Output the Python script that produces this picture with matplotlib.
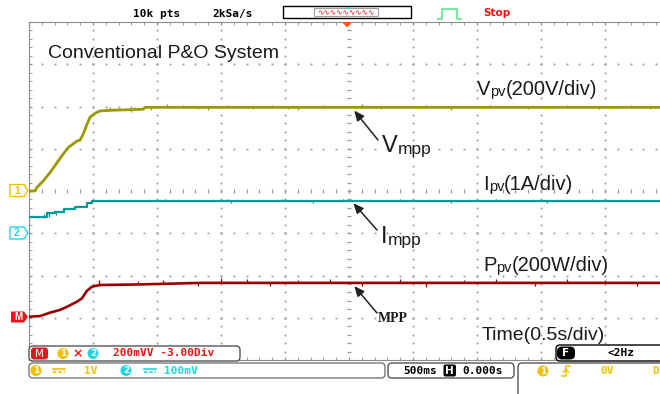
import numpy as np
import matplotlib.pyplot as plt
from matplotlib.patches import Polygon, FancyBboxPatch, Circle, Rectangle

plt.rcParams["font.family"] = ["Liberation Sans", "DejaVu Sans"]

# ─── Captured waveforms (time in s) ───────────────────────────────────────────
t_v  = [0, 0.047, 0.06, 0.11, 0.164, 0.219, 0.266, 0.305, 0.375, 0.398, 0.422,
        0.453, 0.477, 0.516, 0.555, 0.633, 0.89, 0.91, 5.0]
v_pv = [0, 0, 16, 47, 87, 134, 174, 205, 237, 240, 268,
        316, 350, 368, 379, 382, 387, 396, 396]

t_i  = [0, 0.14, 0.20, 0.27, 0.36, 0.45, 0.49, 5.0]
i_pv = [0.39, 0.47, 0.50, 0.57, 0.63, 0.71, 0.76, 0.76]

t_p  = [0, 0.086, 0.164, 0.242, 0.297, 0.375, 0.414, 0.453, 0.492, 0.555, 0.89, 1.34, 5.0]
p_pv = [5, 8, 24, 37, 52, 76, 92, 128, 147, 155, 158, 165, 165]

# glitches riding on the steady-state traces (time, excursion)
v_glitch_t = [0.63, 0.80, 0.83, 0.95, 1.08, 1.20, 1.32, 1.40, 1.55, 1.66, 1.75, 1.90,
              2.02, 2.10, 2.30, 2.42, 2.60, 2.75, 2.88, 3.10, 3.30, 3.45, 3.60, 3.90,
              4.05, 4.20, 4.45, 4.58, 4.70, 4.85]
v_glitch   = [18, -10, 14, -12, 16, 10, -8, -12, 12, 8, -10, 10,
              -8, -12, 10, 8, 14, -10, 8, 10, -12, 8, 10, -10,
              8, 12, -10, 8, 10, -8]
i_glitch_t = [0.12, 0.16, 0.21, 1.06, 1.55, 1.58, 1.98, 2.22, 2.45, 2.90, 3.30, 3.65, 4.05, 4.40]
i_glitch   = [-0.10, -0.10, -0.08, 0.05, 0.05, -0.05, 0.05, -0.04, 0.04, 0.05, -0.04, 0.05, -0.04, 0.04]
p_glitch_t = [0.55, 0.85, 1.05, 1.32, 1.50, 1.70, 1.88, 2.10, 2.35, 2.60, 2.90,
              3.10, 3.40, 3.65, 3.95, 4.20, 4.50, 4.75]
p_glitch   = [22, 18, 20, -15, 22, 18, -15, 16, 20, -14, 18,
              -18, 16, 20, -14, 18, 16, -14]

# scope channel settings: units per division, ground offset (div)
V_SCALE, V_OFF = 200, 4
I_SCALE, I_OFF = 1, 3
P_SCALE, P_OFF = 200, 1

V_COL, I_COL, P_COL = "#999900", "#009a9a", "#990000"
YEL, CYAN, RED = "#f2bf00", "#20d4e6", "#ee1111"
GRID = "#999999"
MONO = dict(family="DejaVu Sans Mono", weight="bold", fontsize=8)

fig = plt.figure(figsize=(6.6, 3.94), dpi=100)

# ─── Scope screen: 10 x 8 divisions ───────────────────────────────────────────
ax = fig.add_axes([29 / 660, 34 / 394, 640 / 660, 338 / 394])
ax.set_xlim(0, 5)
ax.set_ylim(0, 8)
for side in ("left", "top", "bottom"):
    ax.spines[side].set_color("#8c8c8c")
ax.spines["right"].set_visible(False)
ax.set_xticks(np.arange(0, 5.01, 0.5))
ax.set_xticks(np.arange(0, 5.01, 0.1), minor=True)
ax.set_yticks(np.arange(0, 8.01, 1))
ax.set_yticks(np.arange(0, 8.01, 0.2), minor=True)
ax.tick_params(which="both", direction="in", length=2.5, color="#8c8c8c",
               top=True, labelleft=False, labelbottom=False)

# dotted graticule
minor_t = np.arange(0, 5.001, 0.1)
minor_y = np.arange(0, 8.001, 0.2)
gx = [k * 0.5 for k in range(1, 10) if k != 5]
gy = [k for k in range(1, 8) if k != 4]
tt, yy = np.meshgrid(gx, minor_y)
ax.plot(tt.ravel(), yy.ravel(), ls="none", marker="s", ms=1.3, mew=0, color=GRID)
tt, yy = np.meshgrid(minor_t, gy)
ax.plot(tt.ravel(), yy.ravel(), ls="none", marker="s", ms=1.3, mew=0, color=GRID)
# centre cross with small ticks
ax.plot([2.5] * len(minor_y), minor_y, ls="none", marker="_", ms=3, mew=0.9, color=GRID)
ax.plot(minor_t, [4] * len(minor_t), ls="none", marker="|", ms=3, mew=0.9, color=GRID)

# traces
v_div = V_OFF + np.array(v_pv) / V_SCALE
i_div = I_OFF + np.array(i_pv) / I_SCALE
p_div = P_OFF + np.array(p_pv) / P_SCALE
ax.plot(t_v, v_div, color=V_COL, lw=2.0, zorder=4)
ax.plot(t_i, i_div, color=I_COL, lw=1.6, drawstyle="steps-post", zorder=4)
ax.plot(t_p, p_div, color=P_COL, lw=1.9, zorder=4)

v_base = np.interp(v_glitch_t, t_v, v_div)
ax.vlines(v_glitch_t, v_base, v_base + np.array(v_glitch) / V_SCALE, color=V_COL, lw=0.9, zorder=4)
i_base = np.interp(i_glitch_t, t_i, i_div)
ax.vlines(i_glitch_t, i_base, i_base + np.array(i_glitch) / I_SCALE, color=I_COL, lw=0.9, zorder=4)
p_base = np.interp(p_glitch_t, t_p, p_div)
ax.vlines(p_glitch_t, p_base, p_base + np.array(p_glitch) / P_SCALE, color=P_COL, lw=0.9, zorder=4)

# ─── Overlay in pixel coordinates (labels, status bars) ───────────────────────
ov = fig.add_axes([0, 0, 1, 1], zorder=5)
ov.set_xlim(0, 660)
ov.set_ylim(394, 0)
ov.axis("off")
ov.patch.set_alpha(0)


def split_label(x, y, big, small, rest="", size=14, small_size=10, color="#1a1a1a"):
    t1 = ov.text(x, y, big, fontsize=size, va="baseline", ha="left", color=color)
    t2 = ov.annotate(small, xy=(1, 0), xycoords=t1, va="bottom", ha="left",
                     fontsize=small_size, color=color)
    if rest:
        ov.annotate(rest, xy=(1, 0), xycoords=(t2, t1), va="bottom", ha="left",
                    fontsize=size, color=color)


ov.text(48, 58, "Conventional P&O System", fontsize=14, color="#1a1a1a", va="baseline")
split_label(477, 95, "V", "pv", "(200V/div)", size=14.5, small_size=10.5)
split_label(483, 190, "I", "pv", "(1A/div)", size=14.5, small_size=10.5)
split_label(483, 271, "P", "pv", "(200W/div)", size=14.5, small_size=10.5)
split_label(382, 152, "V", "mpp", size=17, small_size=12.5)
split_label(381, 243, "I", "mpp", size=17, small_size=12.5)
ov.text(378, 322, "MPP", family="Liberation Serif", weight="bold", fontsize=10,
        color="#1a1a1a", va="baseline")
ov.text(482, 340, "Time(0.5s/div)", fontsize=14, color="#1a1a1a", va="baseline")

# arrows to the operating point at mid-screen
arrow = dict(arrowstyle="-|>,head_length=0.5,head_width=0.22", color="#222222",
             lw=1.1, mutation_scale=12)
ax.annotate("", xy=(2.52, v_div[-1]), xytext=(378, 140), textcoords=ov.transData,
            arrowprops=dict(shrinkA=0, shrinkB=3, **arrow), annotation_clip=False, zorder=6)
ax.annotate("", xy=(2.52, i_div[-1]), xytext=(377, 230), textcoords=ov.transData,
            arrowprops=dict(shrinkA=0, shrinkB=2, **arrow), annotation_clip=False, zorder=6)
ax.annotate("", xy=(2.52, p_div[-1]), xytext=(377, 313), textcoords=ov.transData,
            arrowprops=dict(shrinkA=0, shrinkB=3, **arrow), annotation_clip=False, zorder=6)

# top status line
ov.text(133, 14, "10k pts", va="center", ha="left", color="black", **MONO)
ov.text(212, 14, "2kSa/s", va="center", ha="left", color="black", **MONO)
ov.add_patch(Rectangle((283, 6), 128, 12, fc="white", ec="black", lw=1))
ov.add_patch(Rectangle((314, 8), 64, 8, fc="white", ec="#a0a0a0", lw=0.8))
ov.text(346, 12.5, "∿∿∿∿∿∿∿∿∿", family="DejaVu Sans", fontsize=5.5, color=RED,
        ha="center", va="center")
ov.add_patch(Rectangle((345.5, 6.5), 3, 2.5, fc=CYAN, ec="none"))
ov.plot([438, 442, 442, 457, 457, 461], [18.5, 18.5, 8.5, 8.5, 18.5, 18.5],
        color="#5fe38b", lw=1.2)
ov.text(483, 13, "Stop", family="DejaVu Sans", weight="bold", fontsize=7.5,
        color=RED, va="center")
ov.add_patch(Polygon([(342, 22), (352, 22), (347, 27.5)], fc="#ff5500", ec="none"))

# channel ground markers
ov.add_patch(Polygon([(10, 184.5), (24, 184.5), (28, 190.5), (24, 196.5), (10, 196.5)],
                     fc="white", ec=YEL, lw=1))
ov.text(17, 190.5, "1", fontsize=7.5, color=YEL, ha="center", va="center", weight="bold")
ov.add_patch(Polygon([(10, 227), (24, 227), (28, 233), (24, 239), (10, 239)],
                     fc="white", ec=CYAN, lw=1))
ov.text(17, 233, "2", fontsize=7.5, color=CYAN, ha="center", va="center", weight="bold")
ov.add_patch(Polygon([(11, 311.5), (24, 311.5), (28, 317), (24, 322.5), (11, 322.5)],
                     fc="#e8141e", ec="none"))
ov.text(18, 317, "M", fontsize=7, color="white", ha="center", va="center", weight="bold")


def status_box(x, y, w, h, ec="#555555"):
    ov.add_patch(FancyBboxPatch((x, y), w, h, boxstyle="round,pad=0,rounding_size=4",
                                fc="white", ec=ec, lw=1))


def chan_dot(x, y, label, color):
    ov.add_patch(Circle((x, y), 5.5, fc=color, ec="none"))
    ov.text(x, y + 0.3, label, fontsize=6.5, color="white", weight="bold",
            ha="center", va="center", family="DejaVu Sans")


def dc_mark(x, y, color):
    ov.plot([x, x + 12], [y - 1.5, y - 1.5], color=color, lw=1.2)
    ov.plot([x, x + 12], [y + 1.5, y + 1.5], color=color, lw=1.2, ls=(0, (2, 1.2)))


# math channel row
status_box(29, 346, 211, 15)
ov.add_patch(FancyBboxPatch((31, 347.5), 17, 12, boxstyle="round,pad=0,rounding_size=3",
                            fc="#e8141e", ec="none"))
ov.text(39.5, 353.8, "M", fontsize=7.5, color="white", ha="center", va="center",
        family="DejaVu Sans")
chan_dot(63, 353.5, "1", YEL)
ov.text(78, 353.5, "×", fontsize=9, color=RED, ha="center", va="center",
        family="DejaVu Sans", weight="bold")
chan_dot(93, 353.5, "2", CYAN)
ov.text(113, 353.5, "200mVV -3.00Div", va="center", color=RED, **MONO)

# channel scale row
status_box(29, 363, 356, 15, ec="#777777")
chan_dot(36, 370.5, "1", YEL)
dc_mark(53, 370.5, YEL)
ov.text(84, 370.5, "1V", va="center", color=YEL, **MONO)
chan_dot(126, 370.5, "2", CYAN)
dc_mark(144, 370.5, CYAN)
ov.text(164, 370.5, "100mV", va="center", color=CYAN, **MONO)

# timebase
status_box(388, 363, 126, 15)
ov.text(403, 370.5, "500ms", va="center", color="black", **MONO)
ov.add_patch(FancyBboxPatch((443.5, 364.5), 12.5, 12, boxstyle="round,pad=0,rounding_size=2",
                            fc="black", ec="none"))
ov.text(449.7, 370.8, "H", fontsize=7.5, color="white", ha="center", va="center",
        family="DejaVu Sans", weight="bold")
ov.text(462, 370.5, "0.000s", va="center", color="black", **MONO)

# trigger
status_box(518, 363, 170, 40)
chan_dot(543, 371, "1", YEL)
ov.plot([562, 566, 566, 570], [376, 376, 366, 366], color=YEL, lw=1.1)
ov.plot([563.5, 566, 568.5], [372, 369.5, 372], color=YEL, lw=1.1)
ov.text(600, 370.5, "0V", va="center", color=YEL, **MONO)
ov.text(652, 370.5, "D", va="center", color=YEL, **MONO)

# frequency counter
status_box(556, 345, 130, 16, ec="black")
ov.add_patch(FancyBboxPatch((557, 346.5), 18, 13, boxstyle="round,pad=0,rounding_size=5",
                            fc="black", ec="none"))
ov.text(566, 353.3, "F", fontsize=7.5, color="white", ha="center", va="center",
        family="DejaVu Sans", weight="bold")
ov.text(607, 353.5, "<2Hz", va="center", color="black", **MONO)

fig.savefig("out.png", dpi=100)
